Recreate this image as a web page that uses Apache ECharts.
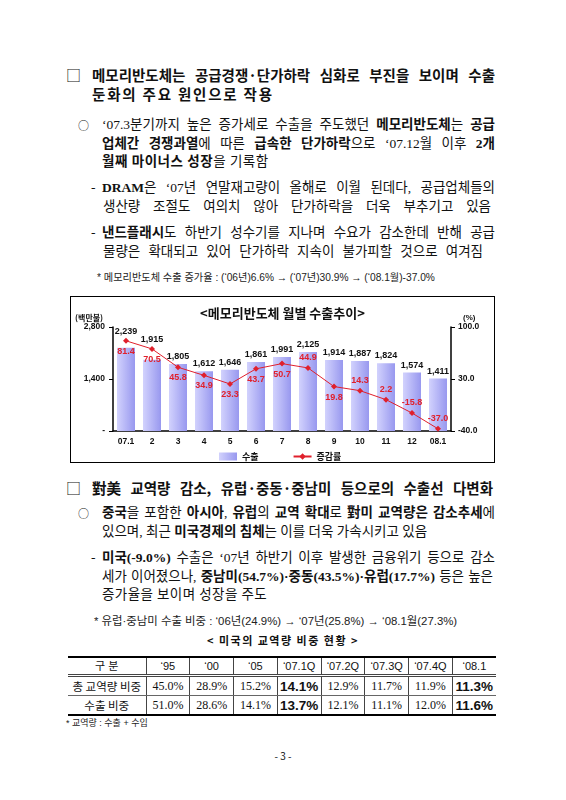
<!DOCTYPE html>
<html><head><meta charset="utf-8">
<script src="https://cdn.jsdelivr.net/npm/echarts@6/dist/echarts.min.js"></script>
<style>
html,body{margin:0;padding:0;background:#fff;}
#page{position:relative;width:566px;height:800px;overflow:hidden;background:#fff;color:#111;
  font-family:"Liberation Serif","Noto Sans CJK KR",serif;}
.ln{position:absolute;white-space:normal;line-height:18px;height:18px;overflow:visible;}
.j{text-align:justify;text-align-last:justify;}
.h{font-family:"Noto Sans CJK KR",sans-serif;font-weight:700;font-size:14.5px;line-height:16px;height:16px;}
.sq{font-family:"Noto Sans CJK KR",sans-serif;font-size:15px;line-height:16px;height:16px;}
.t{font-size:13.5px;}
.t b{font-family:"Liberation Serif","Noto Sans CJK KR",serif;font-weight:700;}
.nb{display:inline-block;}
.nw{white-space:nowrap;}
.n{font-family:"Liberation Sans","Noto Sans CJK KR",sans-serif;color:#222;}
#chartBox{position:absolute;left:70px;top:296px;width:425px;height:167px;border:1px solid #000;box-sizing:border-box;}
#chart{width:423px;height:165px;}
#tbl{position:absolute;left:68px;top:656px;width:428px;border-collapse:collapse;table-layout:fixed;}
#tbl td{text-align:center;padding:0;border-left:1px solid #444;height:18px;line-height:17px;}
#tbl td:first-child{border-left:none;}
#tbl tr.hd td{font-family:"Liberation Sans","Noto Sans CJK KR",sans-serif;font-size:11px;height:16px;line-height:16px;border-top:2px solid #000;border-bottom:3px double #444;}
#tbl tr.r1 td{border-bottom:1px solid #666;}
#tbl tr.r2 td{border-bottom:2px solid #000;}
#tbl td.lab{font-family:"Noto Sans CJK KR",sans-serif;font-size:11.5px;}
#tbl td.v{font-family:"Liberation Serif",serif;font-size:12px;}
#tbl td.vb{font-family:"Liberation Sans",sans-serif;font-size:13.5px;font-weight:700;}
</style></head>
<body><div id="page">
  <div class="ln sq" style="left:66px;top:66.5px;">□</div>
  <div class="ln h j" style="left:92px;top:66.5px;width:403px;">메모리반도체는 공급경쟁·단가하락 심화로 부진을 보이며 수출</div>
  <div class="ln h nw" style="left:92px;top:86px;letter-spacing:1.8px;">둔화의 주요 원인으로 작용</div>

  <div class="ln t" style="left:78px;top:116px;font-family:'Noto Sans CJK KR';font-size:11px;">○</div>
  <div class="ln t j" style="left:102px;top:116px;width:393px;">‘07.3분기까지 높은 증가세로 수출을 주도했던 <b>메모리반도체</b>는 <b>공급</b></div>
  <div class="ln t j" style="left:102px;top:134.5px;width:393px;"><b>업체간 경쟁과열</b>에 따른 <b>급속한 단가하락</b>으로 ‘07.12월 이후 <b>2개</b></div>
  <div class="ln t nw" style="left:102px;top:153px;letter-spacing:0.5px;"><b>월째 마이너스 성장</b>을 기록함</div>

  <div class="ln t" style="left:91px;top:179px;">-</div>
  <div class="ln t j" style="left:102px;top:179px;width:393px;"><b>DRAM</b>은 ‘07년 연말재고량이 올해로 이월 된데다, 공급업체들의</div>
  <div class="ln t j" style="left:103px;top:198px;width:388px;">생산량 조절도 여의치 않아 단가하락을 더욱 부추기고 있음</div>

  <div class="ln t" style="left:91px;top:224px;">-</div>
  <div class="ln t j" style="left:102px;top:224px;width:393px;"><b>낸드플래시</b>도 하반기 성수기를 지나며 수요가 감소한데 반해 공급</div>
  <div class="ln t j" style="left:103px;top:243px;width:380px;">물량은 확대되고 있어 단가하락 지속이 불가피할 것으로 여겨짐</div>

  <div class="ln n nw" style="left:97px;top:269px;font-size:10.2px;">* 메모리반도체 수출 증가율 : (‘06년)6.6% → (‘07년)30.9% → (‘08.1월)-37.0%</div>

  <div id="chartBox"><div id="chart"></div></div>

  <div class="ln sq" style="left:66px;top:480px;">□</div>
  <div class="ln h j" style="left:92px;top:480px;width:401px;"><span class="nb">對美</span> 교역량 감소, 유럽·중동·중남미 등으로의 수출선 다변화</div>

  <div class="ln t" style="left:78px;top:504px;font-family:'Noto Sans CJK KR';font-size:11px;">○</div>
  <div class="ln t j" style="left:102px;top:504px;width:393px;"><b>중국</b>을 포함한 <b>아시아</b>, <b>유럽</b>의 <b>교역 확대</b>로 <b><span class="nb">對미</span> 교역량은 감소추세</b>에</div>
  <div class="ln t nw" style="left:102px;top:523px;">있으며, 최근 <b>미국경제의 침체</b>는 이를 더욱 가속시키고 있음</div>

  <div class="ln t" style="left:91px;top:549px;">-</div>
  <div class="ln t j" style="left:102px;top:549px;width:393px;"><b>미국(-9.0%)</b> 수출은 ‘07년 하반기 이후 발생한 금융위기 등으로 감소</div>
  <div class="ln t j" style="left:102px;top:567.5px;width:391px;">세가 이어졌으나, <b>중남미(54.7%)·중동(43.5%)·유럽(17.7%)</b> 등은 높은</div>
  <div class="ln t nw" style="left:102px;top:586px;letter-spacing:0.4px;">증가율을 보이며 성장을 주도</div>

  <div class="ln n nw" style="left:94px;top:612px;font-size:11.4px;">* 유럽·중남미 수출 비중 : ‘06년(24.9%) → ‘07년(25.8%) → ‘08.1월(27.3%)</div>

  <div class="ln" style="left:0;width:566px;text-align:center;top:631px;font-family:'Noto Sans CJK KR';font-weight:700;font-size:11px;letter-spacing:1.5px;">&lt; 미국의 교역량 비중 현황 &gt;</div>

  <table id="tbl"><colgroup><col style="width:78px"></colgroup><tbody id="tbody"></tbody></table>

  <div class="ln n nw" style="left:66px;top:714px;font-size:9px;">* 교역량 : 수출 + 수입</div>
  <div class="ln" style="left:0;width:566px;text-align:center;top:747px;font-family:'Noto Sans CJK KR';font-size:10px;">- 3 -</div>
</div>
<script>
// ---- chart data ----
const categories = ['07.1','2','3','4','5','6','7','8','9','10','11','12','08.1'];
const exportValues = [2239,1915,1805,1612,1646,1861,1991,2125,1914,1887,1824,1574,1411];
const growthRates = [81.4,70.5,45.8,34.9,23.3,43.7,50.7,44.9,19.8,14.3,2.2,-15.8,-37.0];
const leftTicks = [0,1400,2800];
const rightTicks = [-40,30,100];
// ---- table data ----
const tableHeader = ['구 분','‘95','‘00','‘05','‘07.1Q','‘07.2Q','‘07.3Q','‘07.4Q','‘08.1'];
const rowLabels = ['총 교역량 비중','수출 비중'];
const tradeShare = ['45.0%','28.9%','15.2%','14.1%','12.9%','11.7%','11.9%','11.3%'];
const exportShare = ['51.0%','28.6%','14.1%','13.7%','12.1%','11.1%','12.0%','11.6%'];
const boldCols = [3,7];

// build table
(function(){
  const tb = document.getElementById('tbody');
  let h = '<tr class="hd">' + tableHeader.map((t,i)=>'<td'+(i===0?' class="lab"':'')+'>'+t+'</td>').join('') + '</tr>';
  [tradeShare, exportShare].forEach((row,ri)=>{
    h += '<tr class="r'+(ri+1)+'"><td class="lab">'+rowLabels[ri]+'</td>' +
      row.map((v,i)=>'<td class="'+(boldCols.includes(i)?'vb':'v')+'">'+v+'</td>').join('') + '</tr>';
  });
  tb.innerHTML = h;
})();

const FONT = '"Liberation Sans","Noto Sans CJK KR",sans-serif';
const RED = '#e0202c';
const chart = echarts.init(document.getElementById('chart'), null, {renderer:'canvas'});
const aboveIdx = [7,9,10,11,12];

function barData(offsets){
  return exportValues.map((v,i)=>({value:v, label:{offset:[0, offsets ? offsets[i] : 0]}}));
}
const option = {
  animation:false,
  textStyle:{fontFamily:FONT},
  title:{text:'<메모리반도체 월별 수출추이>', left:'center', top:5,
    textStyle:{fontFamily:'"Noto Sans CJK KR",sans-serif', fontSize:13, fontWeight:'bold', color:'#111'}},
  graphic:[
    {type:'text', left:4, top:17, style:{text:'(백만불)', font:'bold 8px "Noto Sans CJK KR"', fill:'#111'}},
    {type:'text', left:392, top:17, style:{text:'(%)', font:'bold 8px "Liberation Sans"', fill:'#111'}}
  ],
  legend:{left:143, top:150, itemWidth:18, itemHeight:8, itemGap:34,
    textStyle:{fontSize:9, fontWeight:'bold', color:'#111', fontFamily:'"Noto Sans CJK KR",sans-serif'},
    data:[{name:'수출', icon:'rect'},{name:'증감률'}]},
  grid:{left:42, right:43, top:30, bottom:31},
  xAxis:{type:'category', data:categories, boundaryGap:true,
    axisLine:{lineStyle:{color:'#000', width:1.5}},
    axisTick:{inside:true, length:3, lineStyle:{color:'#000'}},
    axisLabel:{fontSize:8.5, fontWeight:'bold', color:'#111', margin:6}},
  yAxis:[
    {type:'value', min:leftTicks[0], max:leftTicks[2], interval:leftTicks[1]-leftTicks[0],
      splitLine:{show:false}, axisLine:{show:true, lineStyle:{color:'#000', width:1.5}},
      axisTick:{show:true, length:4, lineStyle:{color:'#000'}},
      axisLabel:{fontSize:8.5, fontWeight:'bold', color:'#111', margin:8,
        formatter:v=> v===0 ? '-' : v.toLocaleString('en-US')}},
    {type:'value', position:'right', min:rightTicks[0], max:rightTicks[2], interval:rightTicks[1]-rightTicks[0],
      splitLine:{show:false}, axisLine:{show:true, lineStyle:{color:'#000', width:1.5}},
      axisTick:{show:true, length:4, lineStyle:{color:'#000'}},
      axisLabel:{fontSize:8.5, fontWeight:'bold', color:'#111', margin:7,
        formatter:v=> v.toFixed(1)}}
  ],
  series:[
    {type:'bar', name:'수출', data:barData(null), barWidth:18, z:1,
      itemStyle:{color:new echarts.graphic.LinearGradient(0,0,1,0,[{offset:0,color:'#d2d2fd'},{offset:1,color:'#9898ef'}])},
      label:{show:true, position:'top', distance:3, fontSize:9, fontWeight:'bold', color:'#111',
        formatter:p=>p.value.toLocaleString('en-US')}},
    {type:'line', name:'증감률', yAxisIndex:1, z:3,
      data:growthRates.map((v,i)=>({value:v, label:{position: aboveIdx.includes(i) ? 'top' : 'bottom'}})),
      symbol:'diamond', symbolSize:6, lineStyle:{color:RED, width:1}, itemStyle:{color:RED},
      label:{show:true, distance:3, fontSize:9, fontWeight:'bold', color:RED,
        formatter:p=>p.value.toFixed(1)}}
  ]
};
chart.setOption(option);
// lift bar labels above the line marker where the line runs over the bar top
const offs = exportValues.map((v,i)=>{
  const barTop = chart.convertToPixel({yAxisIndex:0}, v);
  const lineY = chart.convertToPixel({yAxisIndex:1}, growthRates[i]);
  const defY = barTop - 8;
  const want = Math.min(defY, lineY - 10);
  return want - defY;
});
chart.setOption({series:[{data:barData(offs)}]});
</script>
</body></html>
